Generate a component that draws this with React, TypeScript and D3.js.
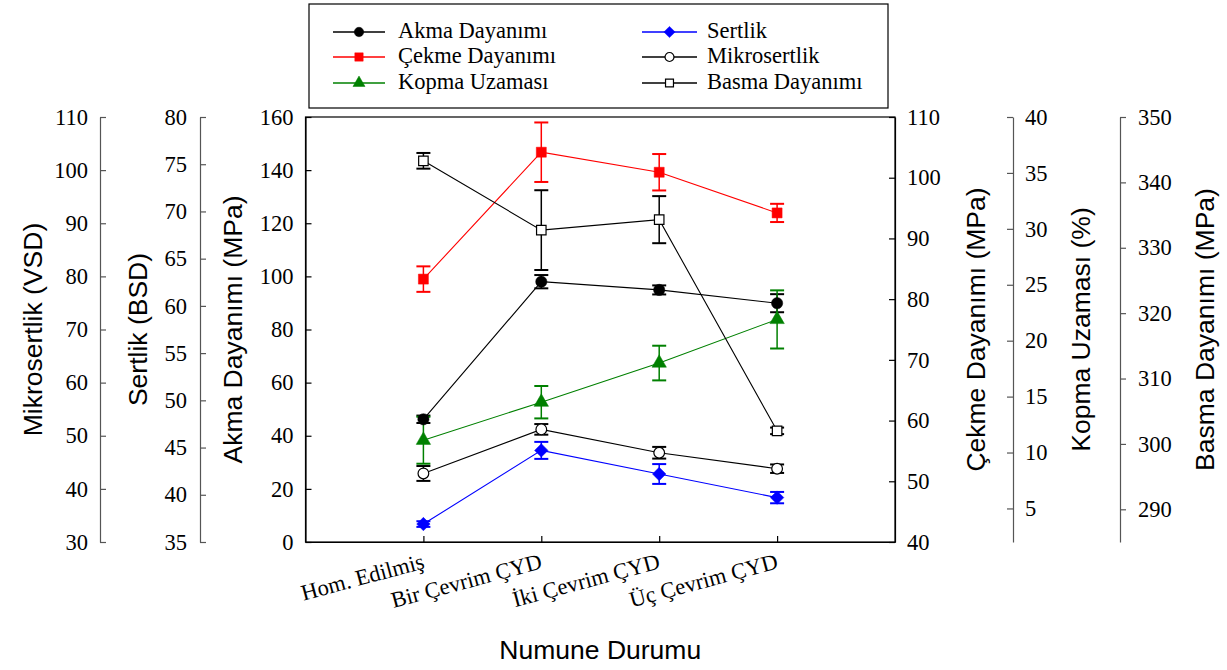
import React, { useEffect, useRef } from 'react';
import * as d3 from 'd3';

// categories along x
const categories = ['Hom. Edilmiş', 'Bir Çevrim ÇYD', 'İki Çevrim ÇYD', 'Üç Çevrim ÇYD'];

// series values and their error bars
const akma = [46.2, 98.0, 94.9, 89.9];
const akmaErr = [1.4, 2.5, 1.7, 3.4];
const cekme = [83.3, 104.2, 100.9, 94.2];
const cekmeErr = [2.1, 4.9, 3.0, 1.5];
const kopma = [11.1, 14.5, 18.0, 21.9];
const kopmaErr = [2.1, 1.45, 1.55, 2.6];
const sertlik = [36.9, 44.7, 42.2, 39.7];
const sertlikErr = [0.3, 0.9, 1.05, 0.6];
const mikro = [42.9, 51.2, 46.8, 43.8];
const mikroErr = [1.4, 1.0, 1.1, 0.8];
const basma = [343.3, 332.7, 334.3, 302.0];
const basmaErr = [1.2, 6.1, 3.6, 0.5];

// tick values of each axis
const akmaTicks = [0, 20, 40, 60, 80, 100, 120, 140, 160];
const mikroTicks = [30, 40, 50, 60, 70, 80, 90, 100, 110];
const sertlikTicks = [35, 40, 45, 50, 55, 60, 65, 70, 75, 80];
const cekmeTicks = [40, 50, 60, 70, 80, 90, 100, 110];
const kopmaTicks = [5, 10, 15, 20, 25, 30, 35, 40];
const basmaTicks = [290, 300, 310, 320, 330, 340, 350];

const SERIF = '"Liberation Serif", "Times New Roman", serif';
const SANS = '"Liberation Sans", Arial, sans-serif';

// square turned 45 degrees, like the reference's diamond
const diamond: d3.SymbolType = {
  draw(ctx: any, size: number) {
    const r = Math.sqrt(size / 2);
    ctx.moveTo(0, -r);
    ctx.lineTo(r, 0);
    ctx.lineTo(0, r);
    ctx.lineTo(-r, 0);
    ctx.closePath();
  },
};

const App: React.FC = () => {
  const ref = useRef<SVGSVGElement | null>(null);

  useEffect(() => {
    const svg = d3.select(ref.current);
    svg.selectAll('*').remove();

    const left = 305.5, right = 895, top = 117, bottom = 542;

    const x = d3.scaleLinear().domain([0, 5]).range([left, right]);
    const yAkma = d3.scaleLinear().domain([0, 160]).range([bottom, top]);
    const yMikro = d3.scaleLinear().domain([30, 110]).range([bottom, top]);
    const ySert = d3.scaleLinear().domain([35, 80]).range([bottom, top]);
    const yCekme = d3.scaleLinear().domain([40, 110]).range([bottom, top]);
    const yKopma = d3.scaleLinear().domain([2, 40]).range([bottom, top]);
    const yBasma = d3.scaleLinear().domain([285, 350]).range([bottom, top]);

    const styleAxis = (g: any, lineColor: string) => {
      g.select('.domain').attr('stroke', lineColor).attr('stroke-width', 1.2);
      g.selectAll('.tick line').attr('stroke', lineColor).attr('stroke-width', 1.2);
      g.selectAll('text').style('font-family', SERIF).style('font-size', '22.5px').attr('fill', '#000');
    };

    const addAxis = (axis: any, xPos: number, color: string) => {
      const g = svg.append('g').attr('transform', `translate(${xPos},0)`).call(axis);
      styleAxis(g, color);
      return g;
    };
    // left axes
    addAxis(d3.axisLeft(yMikro).tickValues(mikroTicks).tickSizeInner(-6).tickSizeOuter(0).tickPadding(12), 100, '#555');
    addAxis(d3.axisLeft(ySert).tickValues(sertlikTicks).tickSizeInner(-6).tickSizeOuter(0).tickPadding(13), 200, '#555');
    addAxis(d3.axisLeft(yAkma).tickValues(akmaTicks).tickSizeInner(-6).tickSizeOuter(0).tickPadding(12), left, '#000');

    // right axes
    addAxis(d3.axisRight(yCekme).tickValues(cekmeTicks).tickSizeInner(-6).tickSizeOuter(0).tickPadding(12), right, '#000');
    addAxis(d3.axisRight(yKopma).tickValues(kopmaTicks).tickSizeInner(-6).tickSizeOuter(0).tickPadding(12), 1013, '#555');
    addAxis(d3.axisRight(yBasma).tickValues(basmaTicks).tickSizeInner(6).tickSizeOuter(0).tickPadding(12), 1120, '#555');

    // x axis
    const xg = svg.append('g').attr('transform', `translate(0,${bottom})`)
      .call(d3.axisBottom(x).tickValues([1, 2, 3, 4]).tickSizeInner(-6).tickSizeOuter(0).tickFormat(() => ''));
    styleAxis(xg, '#000');

    // frame
    svg.append('rect')
      .attr('x', left).attr('y', top)
      .attr('width', right - left).attr('height', bottom - top)
      .attr('fill', 'none').attr('stroke', '#000').attr('stroke-width', 1.2);

    // category labels
    categories.forEach((c, i) => {
      svg.append('text')
        .attr('transform', `translate(${x(i + 1) + 2},568) rotate(-15)`)
        .attr('text-anchor', 'end')
        .style('font-family', SERIF)
        .style('font-size', '22.5px')
        .text(c);
    });

    // axis titles
    const title = (txt: string, xPos: number, yPos: number, rot: number) => {
      svg.append('text')
        .attr('transform', `translate(${xPos},${yPos}) rotate(${rot})`)
        .attr('text-anchor', 'middle')
        .style('font-family', SANS)
        .style('font-size', '26.5px')
        .text(txt);
    };
    const midY = (top + bottom) / 2;
    title('Mikrosertlik (VSD)', 42, midY, -90);
    title('Sertlik (BSD)', 147, midY, -90);
    title('Akma Dayanımı (MPa)', 242, midY, -90);
    title('Çekme Dayanımı (MPa)', 985, midY, -90);
    title('Kopma Uzaması (%)', 1090, midY, -90);
    title('Basma Dayanımı (MPa)', 1214, midY, -90);
    title('Numune Durumu', (left + right) / 2, 659, 0);

    type Series = {
      name: string; values: number[]; err: number[]; y: d3.ScaleLinear<number, number>;
      color: string; symbol: d3.SymbolType; size: number; fill: string;
    };
    const series: Series[] = [
      { name: 'Akma Dayanımı', values: akma, err: akmaErr, y: yAkma, color: '#000', symbol: d3.symbolCircle, size: 100, fill: '#000' },
      { name: 'Çekme Dayanımı', values: cekme, err: cekmeErr, y: yCekme, color: '#ff0000', symbol: d3.symbolSquare, size: 100, fill: '#ff0000' },
      { name: 'Kopma Uzaması', values: kopma, err: kopmaErr, y: yKopma, color: '#008000', symbol: d3.symbolTriangle, size: 90, fill: '#008000' },
      { name: 'Sertlik', values: sertlik, err: sertlikErr, y: ySert, color: '#0000ff', symbol: diamond, size: 90, fill: '#0000ff' },
      { name: 'Mikrosertlik', values: mikro, err: mikroErr, y: yMikro, color: '#000', symbol: d3.symbolCircle, size: 90, fill: '#fff' },
      { name: 'Basma Dayanımı', values: basma, err: basmaErr, y: yBasma, color: '#000', symbol: d3.symbolSquare, size: 90, fill: '#fff' },
    ];

    const plot = svg.append('g');
    // lines
    series.forEach(s => {
      const line = d3.line<number>().x((_, i) => x(i + 1)).y(v => s.y(v));
      plot.append('path').attr('d', line(s.values) as string)
        .attr('fill', 'none').attr('stroke', s.color).attr('stroke-width', 1.1);
    });
    // error bars
    series.forEach(s => {
      s.values.forEach((v, i) => {
        const cx = x(i + 1);
        const y1 = s.y(v + s.err[i]);
        const y0 = s.y(v - s.err[i]);
        plot.append('line').attr('x1', cx).attr('x2', cx).attr('y1', y1).attr('y2', y0)
          .attr('stroke', s.color).attr('stroke-width', 1.5);
        [y0, y1].forEach(yy => {
          plot.append('line').attr('x1', cx - 7).attr('x2', cx + 7).attr('y1', yy).attr('y2', yy)
            .attr('stroke', s.color).attr('stroke-width', 2);
        });
      });
    });
    // markers
    series.forEach(s => {
      s.values.forEach((v, i) => {
        plot.append('path')
          .attr('d', d3.symbol().type(s.symbol).size(s.size)() as string)
          .attr('transform', `translate(${x(i + 1)},${s.y(v)})`)
          .attr('fill', s.fill)
          .attr('stroke', s.fill === '#fff' ? '#000' : s.color)
          .attr('stroke-width', s.fill === '#fff' ? 1.2 : 0.5);
      });
    });

    // legend
    svg.append('rect').attr('x', 309).attr('y', 4).attr('width', 579).attr('height', 104)
      .attr('fill', '#fff').attr('stroke', '#000').attr('stroke-width', 1.2);
    const rows = [32, 57, 83];
    const cols = [{ x0: 333, x1: 385, tx: 398 }, { x0: 642, x1: 697, tx: 707 }];
    series.forEach((s, k) => {
      const col = cols[k < 3 ? 0 : 1];
      const ry = rows[k % 3];
      const lg = svg.append('g');
      lg.append('line').attr('x1', col.x0).attr('x2', col.x1).attr('y1', ry).attr('y2', ry)
        .attr('stroke', s.color).attr('stroke-width', 1.3);
      lg.append('path')
        .attr('d', d3.symbol().type(s.symbol).size(s.size * 0.7)() as string)
        .attr('transform', `translate(${(col.x0 + col.x1) / 2},${ry})`)
        .attr('fill', s.fill)
        .attr('stroke', s.fill === '#fff' ? '#000' : s.color)
        .attr('stroke-width', s.fill === '#fff' ? 1.2 : 0.5);
      lg.append('text').attr('x', col.tx).attr('y', ry + 6)
        .style('font-family', SERIF).style('font-size', '22.5px').text(s.name);
    });
  }, []);

  return (
    <svg ref={ref} width={1227} height={670}
      style={{ position: 'absolute', left: 0, top: 0, background: '#fff' }} />
  );
};

export default App;
